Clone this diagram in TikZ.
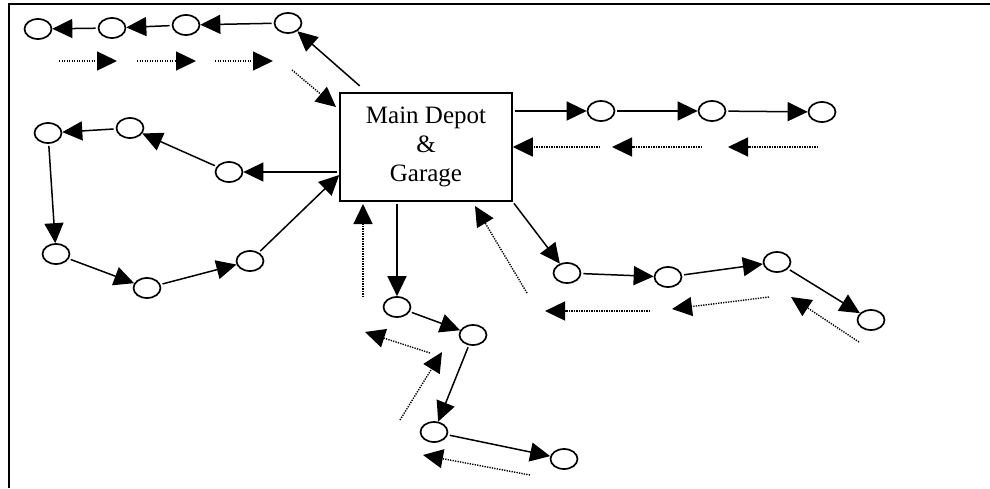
\documentclass[tikz,border=0pt]{standalone}
\usepackage{fontspec}
\setmainfont{Liberation Serif}
\usetikzlibrary{arrows.meta,calc,shapes.geometric}
\begin{document}
\begin{tikzpicture}[x=1pt,y=-1pt,
  stop/.style={ellipse,draw,line width=1.7pt,minimum width=27pt,minimum height=20pt,inner sep=0pt},
  arr/.style={line width=1.5pt,-{Triangle[length=20pt,width=19pt]},shorten <=2pt},
  ret/.style={line width=1.4pt,dash pattern=on 1.3pt off 1.2pt,-{Triangle[length=20pt,width=19pt]}},
  depot/.style={draw,line width=1.5pt,minimum width=172pt,minimum height=108pt,inner sep=0pt,align=center,font=\fontsize{25}{29}\selectfont}]
\useasboundingbox (0,0) rectangle (990,488);
\draw[line width=2pt] (9,488) -- (9,4) -- (990,4);
\node[depot] (box) at (426,147) {Main Depot\\\&\\Garage};
% stops
\node[stop] (E1) at (38,29) {};
\node[stop] (E2) at (112,28) {};
\node[stop] (E3) at (186,25) {};
\node[stop] (E4) at (288,23) {};
\node[stop] (R1) at (601,111) {};
\node[stop] (R2) at (712,111) {};
\node[stop] (R3) at (822,112) {};
\node[stop] (L1) at (229,172) {};
\node[stop] (L2) at (130,128) {};
\node[stop] (L3) at (48,133) {};
\node[stop] (L4) at (56,254) {};
\node[stop] (L5) at (147,288) {};
\node[stop] (L6) at (250,261) {};
\node[stop] (B1) at (397,307) {};
\node[stop] (B2) at (473,335) {};
\node[stop] (B3) at (434,432) {};
\node[stop] (B4) at (564,459) {};
\node[stop] (D1) at (567,273) {};
\node[stop] (D2) at (668,277) {};
\node[stop] (D3) at (777,262) {};
\node[stop] (D4) at (871,320) {};
% free ends of return arrows
\coordinate (t1a) at (59,61);  \coordinate (t1b) at (117,61);
\coordinate (t2a) at (137,61); \coordinate (t2b) at (196,61);
\coordinate (t3a) at (215,61); \coordinate (t3b) at (273,61);
\coordinate (t4a) at (292,70); \coordinate (t4b) at (336,107);
\coordinate (r1a) at (600,147);
\coordinate (r2a) at (702,147); \coordinate (r2b) at (612,147);
\coordinate (r3a) at (818,147); \coordinate (r3b) at (728,147);
\coordinate (b1a) at (363,297); \coordinate (b1b) at (363,204);
\coordinate (b2a) at (430,353); \coordinate (b2b) at (365,332);
\coordinate (b3a) at (400,420); \coordinate (b3b) at (442,352);
\coordinate (b4a) at (530,475); \coordinate (b4b) at (423,455);
\coordinate (d0a) at (527,293); \coordinate (d0b) at (475,206);
\coordinate (d1a) at (650,311); \coordinate (d1b) at (545,311);
\coordinate (d2a) at (769,297); \coordinate (d2b) at (672,309);
\coordinate (d3a) at (859,342); \coordinate (d3b) at (791,297);
% top route
\draw[arr] ($(box.north west)+(22,-5)$) -- (E4);
\draw[arr] (E4) -- (E3);
\draw[arr] (E3) -- (E2);
\draw[arr] (E2) -- (E1);
\draw[ret] (t1a) -- (t1b);
\draw[ret] (t2a) -- (t2b);
\draw[ret] (t3a) -- (t3b);
\draw[ret] (t4a) -- (t4b);
% right route
\draw[arr] (box.east |- R1) -- (R1);
\draw[arr] (R1) -- (R2);
\draw[arr] (R2) -- (R3);
\draw[ret] (r1a) -- (box.east);
\draw[ret] (r2a) -- (r2b);
\draw[ret] (r3a) -- (r3b);
% left loop
\draw[arr] (L1 -| box.west) -- (L1);
\draw[arr] (L1) -- (L2);
\draw[arr] (L2) -- (L3);
\draw[arr] (L3) -- (L4);
\draw[arr] (L4) -- (L5);
\draw[arr] (L5) -- (L6);
\draw[arr] (L6) -- ($(box.west)+(0,28)$);
% bottom route
\draw[arr] (B1 |- box.south) -- (B1);
\draw[arr] (B1) -- (B2);
\draw[arr] (B2) -- (B3);
\draw[arr] (B3) -- (B4);
\draw[ret] (b1a) -- (b1b);
\draw[ret] (b2a) -- (b2b);
\draw[ret] (b3a) -- (b3b);
\draw[ret] (b4a) -- (b4b);
% lower right route
\draw[arr] (box.south east) -- (D1);
\draw[arr] (D1) -- (D2);
\draw[arr] (D2) -- (D3);
\draw[arr] (D3) -- (D4);
\draw[ret] (d0a) -- (d0b);
\draw[ret] (d1a) -- (d1b);
\draw[ret] (d2a) -- (d2b);
\draw[ret] (d3a) -- (d3b);
\end{tikzpicture}
\end{document}
